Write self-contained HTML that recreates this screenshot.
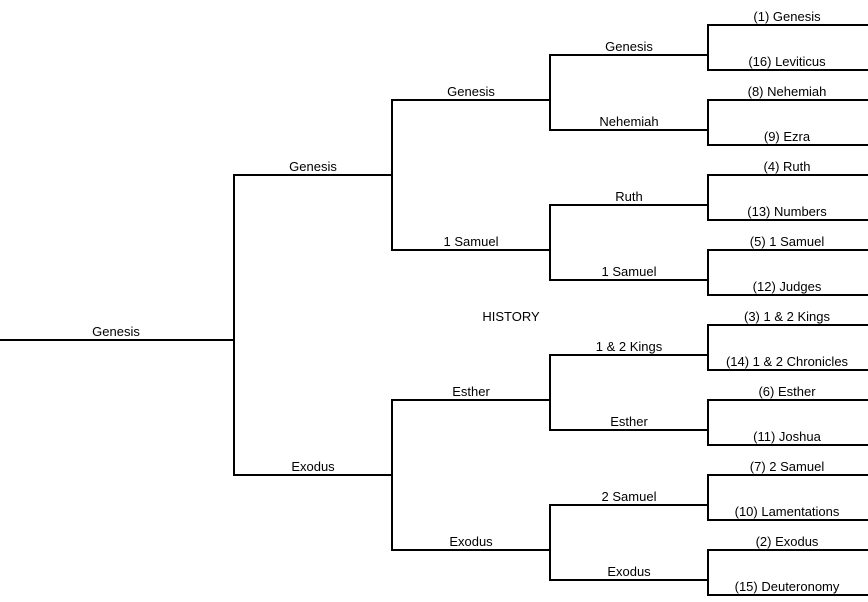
<!DOCTYPE html>
<html><head><meta charset="utf-8"><style>
html,body{margin:0;padding:0;background:#fff;}
svg{display:block;}
text{font-family:"Liberation Sans",Arial,sans-serif;font-size:13px;fill:#000;text-anchor:middle;}
</style></head><body>
<svg width="868" height="602" viewBox="0 0 868 602" xmlns="http://www.w3.org/2000/svg">
<g fill="none" stroke="#000" stroke-width="2" stroke-linecap="square">
<path d="M867 25H708V70H867M550 55H708"/>
<path d="M867 100H708V145H867M550 130H708"/>
<path d="M867 175H708V220H867M550 205H708"/>
<path d="M867 250H708V295H867M550 280H708"/>
<path d="M867 325H708V370H867M550 355H708"/>
<path d="M867 400H708V445H867M550 430H708"/>
<path d="M867 475H708V520H867M550 505H708"/>
<path d="M867 550H708V595H867M550 580H708"/>
<path d="M550 55V130M392 100H550"/>
<path d="M550 205V280M392 250H550"/>
<path d="M550 355V430M392 400H550"/>
<path d="M550 505V580M392 550H550"/>
<path d="M392 100V250M234 175H392"/>
<path d="M392 400V550M234 475H392"/>
<path d="M234 175V475M0 340H234"/>
</g>
<text x="787" y="21">(1) Genesis</text>
<text x="787" y="66">(16) Leviticus</text>
<text x="787" y="96">(8) Nehemiah</text>
<text x="787" y="141">(9) Ezra</text>
<text x="787" y="171">(4) Ruth</text>
<text x="787" y="216">(13) Numbers</text>
<text x="787" y="246">(5) 1 Samuel</text>
<text x="787" y="291">(12) Judges</text>
<text x="787" y="321">(3) 1 &amp; 2 Kings</text>
<text x="787" y="366">(14) 1 &amp; 2 Chronicles</text>
<text x="787" y="396">(6) Esther</text>
<text x="787" y="441">(11) Joshua</text>
<text x="787" y="471">(7) 2 Samuel</text>
<text x="787" y="516">(10) Lamentations</text>
<text x="787" y="546">(2) Exodus</text>
<text x="787" y="591">(15) Deuteronomy</text>
<text x="629" y="51">Genesis</text>
<text x="629" y="126">Nehemiah</text>
<text x="629" y="201">Ruth</text>
<text x="629" y="276">1 Samuel</text>
<text x="629" y="351">1 &amp; 2 Kings</text>
<text x="629" y="426">Esther</text>
<text x="629" y="501">2 Samuel</text>
<text x="629" y="576">Exodus</text>
<text x="471" y="96">Genesis</text>
<text x="471" y="246">1 Samuel</text>
<text x="471" y="396">Esther</text>
<text x="471" y="546">Exodus</text>
<text x="313" y="171">Genesis</text>
<text x="313" y="471">Exodus</text>
<text x="116" y="336">Genesis</text>
<text x="511" y="321">HISTORY</text>
</svg>
</body></html>
